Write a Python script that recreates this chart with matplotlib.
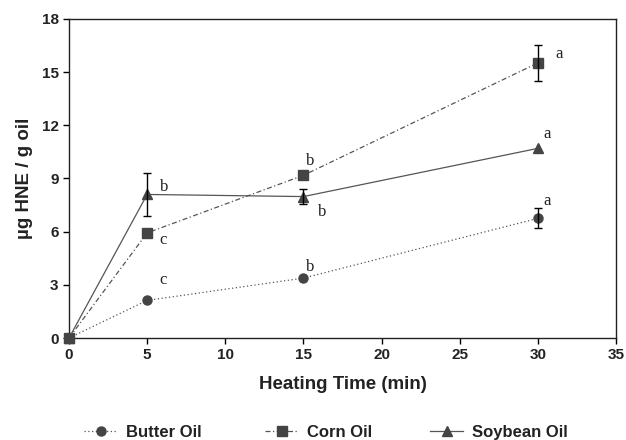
import matplotlib
matplotlib.use("Agg")
import matplotlib.pyplot as plt

time = [0, 5, 15, 30]
butter = [0, 2.12, 3.38, 6.75]
butter_err = [0, 0, 0, 0.57]
corn = [0, 5.93, 9.18, 15.52]
corn_err = [0, 0, 0, 1.0]
soy = [0, 8.1, 7.98, 10.7]
soy_err = [0, 1.2, 0.43, 0]

letters_butter = ["c", "b", "a"]
letters_corn = ["c", "b", "a"]
letters_soy = ["b", "b", "a"]

xticks = [0, 5, 10, 15, 20, 25, 30, 35]
yticks = [0, 3, 6, 9, 12, 15, 18]

sans = "Liberation Sans"
serif = "Liberation Serif"

fig = plt.figure(figsize=(6.26, 4.4), dpi=100)
ax = fig.add_axes([69/626, 1-338/440, (616-69)/626, (338-19)/440])

line_c = "#555555"
mk_c = "#444444"

handles = []
def series(y, err, marker, ls, label, ms):
    h, = ax.plot(time, y, linestyle=ls, color=line_c, lw=0.9, marker=marker,
                 markersize=ms, markerfacecolor=mk_c, markeredgecolor=mk_c, label=label,
                 clip_on=False, zorder=3)
    handles.append(h)
    idx = [i for i, e in enumerate(err) if e > 0]
    ax.errorbar([time[i] for i in idx], [y[i] for i in idx], yerr=[err[i] for i in idx],
                fmt="none", ecolor="black", elinewidth=1.0, capsize=2.7, capthick=1.0, zorder=4)

series(butter, butter_err, "o", (0, (1, 2)), "Butter Oil", 6.5)
series(corn, corn_err, "s", (0, (4, 2, 1, 2)), "Corn Oil", 6.5)
series(soy, soy_err, "^", "-", "Soybean Oil", 7)

# significance letters
tfont = dict(family=serif, fontsize=12, ha="center", va="center", color="#222222")
bx = [6.0, 15.4, 30.56]
by = [3.3, 4.03, 7.75]
cx = [6.0, 15.4, 31.35]
cy = [5.55, 10.0, 16.0]
sx = [6.1, 16.2, 30.56]
sy = [8.5, 7.1, 11.5]
for lst, xs, ys in [(letters_butter, bx, by), (letters_corn, cx, cy), (letters_soy, sx, sy)]:
    for t, x, y in zip(lst, xs, ys):
        ax.text(x, y, t, **tfont)

ax.set_xlim(0, 35)
ax.set_ylim(0, 18)
ax.set_xticks(xticks)
ax.set_yticks(yticks)
ax.tick_params(direction="out", length=4, width=1, labelsize=11)
for lab in ax.get_xticklabels() + ax.get_yticklabels():
    lab.set_fontfamily(sans)
    lab.set_fontweight("bold")
    lab.set_color("#222222")
for sp in ax.spines.values():
    sp.set_linewidth(1.0)
    sp.set_color("#222222")

ax.set_xlabel("Heating Time (min)", family=sans, fontweight="bold", fontsize=13.5, labelpad=10, color="#222222")
ax.set_ylabel("µg HNE / g oil", family=sans, fontweight="bold", fontsize=13.5, labelpad=6, color="#222222")

leg_x = [84, 265, 430]
for h, x in zip(handles, leg_x):
    leg = fig.legend([h], [h.get_label()], loc="center left", bbox_to_anchor=(x/626, 1-432/440),
                     frameon=False, prop=dict(family=sans, weight="bold", size=12),
                     handlelength=2.0, handletextpad=0.5, borderpad=0.0, borderaxespad=0.0)
    for t in leg.get_texts():
        t.set_color("#222222")

fig.savefig("out.png", dpi=100)
